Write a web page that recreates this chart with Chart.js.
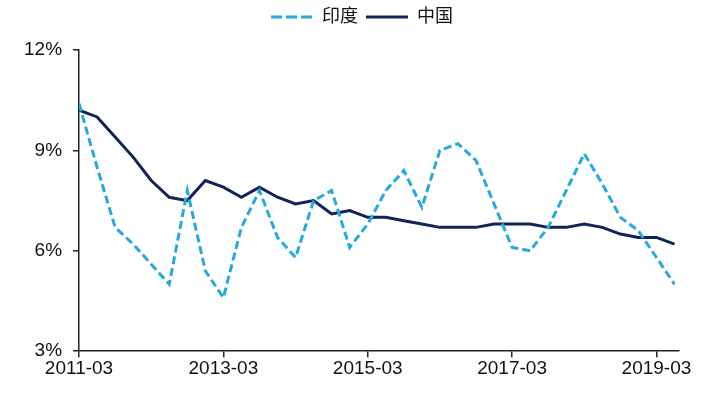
<!DOCTYPE html>
<html>
<head>
<meta charset="utf-8">
<script src="https://cdn.jsdelivr.net/npm/chart.js@4"></script>
<style>
  html, body { margin: 0; padding: 0; background: #fff; }
  #wrap { width: 714px; height: 405px; }
</style>
</head>
<body>
<div id="wrap"><canvas id="graphique" width="714" height="405"></canvas></div>
<script>
// Croissance du PIB trimestriel (%), 2011-03 à 2019-06
const trimestres = [
  '2011-03', '2011-06', '2011-09', '2011-12',
  '2012-03', '2012-06', '2012-09', '2012-12',
  '2013-03', '2013-06', '2013-09', '2013-12',
  '2014-03', '2014-06', '2014-09', '2014-12',
  '2015-03', '2015-06', '2015-09', '2015-12',
  '2016-03', '2016-06', '2016-09', '2016-12',
  '2017-03', '2017-06', '2017-09', '2017-12',
  '2018-03', '2018-06', '2018-09', '2018-12',
  '2019-03', '2019-06'
];
const inde = [
  10.4, 8.5, 6.7, 6.2, 5.6, 5.0, 7.8, 5.4,
  4.6, 6.7, 7.8, 6.4, 5.8, 7.5, 7.8, 6.1,
  6.8, 7.8, 8.4, 7.3, 9.0, 9.2, 8.7, 7.4,
  6.1, 6.0, 6.7, 7.8, 8.9, 8.0, 7.0, 6.6,
  5.8, 5.0
];
const chine = [
  10.2, 10.0, 9.4, 8.8, 8.1, 7.6, 7.5, 8.1,
  7.9, 7.6, 7.9, 7.6, 7.4, 7.5, 7.1, 7.2,
  7.0, 7.0, 6.9, 6.8, 6.7, 6.7, 6.7, 6.8,
  6.8, 6.8, 6.7, 6.7, 6.8, 6.7, 6.5, 6.4,
  6.4, 6.2
];
const ticksY = [3, 6, 9, 12];
const ticksX = ['2011-03', '2013-03', '2015-03', '2017-03', '2019-03'];

const ctx = document.getElementById('graphique').getContext('2d');
const police = "'Liberation Sans', Arial, 'Noto Sans CJK SC', sans-serif";

// Ajoute de l'espace sous la légende et la décale un peu vers la droite
const margeLegende = {
  id: 'margeLegende',
  beforeInit(chart) {
    const fitOrig = chart.legend.fit;
    chart.legend.fit = function fit() {
      fitOrig.bind(chart.legend)();
      this.height += 14;
    };
  },
  afterLayout(chart) {
    chart.legend.left += 16;
    chart.legend.right += 16;
  }
};

new Chart(ctx, {
  type: 'line',
  data: {
    datasets: [{
      label: '印度',
      data: inde.map((v, i) => ({ x: i, y: v })),
      borderColor: '#27a9de',
      borderWidth: 3,
      borderDash: [8, 4],
      pointRadius: 0,
      pointStyle: 'line',
      tension: 0
    }, {
      label: '中国',
      data: chine.map((v, i) => ({ x: i, y: v })),
      borderColor: '#11245a',
      borderWidth: 3,
      pointRadius: 0,
      pointStyle: 'line',
      tension: 0
    }]
  },
  plugins: [margeLegende],
  options: {
    responsive: false,
    animation: false,
    layout: { padding: { left: 13, right: 35, top: 0, bottom: 25 } },
    plugins: {
      legend: {
        position: 'top',
        labels: {
          usePointStyle: true,
          pointStyleWidth: 42,
          boxHeight: 3,
          color: '#111',
          padding: 8,
          font: { family: police, size: 18 },
          // le style pointillé n'est pas repris par défaut avec usePointStyle
          generateLabels: (chart) => Chart.defaults.plugins.legend.labels.generateLabels(chart).map((l) => ({
            ...l,
            lineWidth: 3,
            lineDash: chart.data.datasets[l.datasetIndex].borderDash ? [11, 4] : []
          }))
        }
      },
      tooltip: { enabled: false }
    },
    scales: {
      x: {
        type: 'linear',
        min: 0,
        max: 33.25,
        afterBuildTicks: (axe) => {
          axe.ticks = ticksX.map((t) => ({ value: trimestres.indexOf(t) }));
        },
        ticks: {
          callback: (v) => trimestres[v],
          color: '#111',
          padding: 0,
          maxRotation: 0,
          font: { family: police, size: 19 }
        },
        grid: { drawOnChartArea: false, tickLength: 6, color: '#222', lineWidth: 1.5 },
        border: { display: true, color: '#222', width: 1.5 }
      },
      y: {
        min: 3,
        max: 12,
        afterBuildTicks: (axe) => {
          axe.ticks = ticksY.map((v) => ({ value: v }));
        },
        ticks: {
          callback: (v) => v + '%',
          color: '#111',
          padding: 11,
          font: { family: police, size: 19 }
        },
        grid: { drawOnChartArea: false, tickLength: 6, color: '#222', lineWidth: 1.5 },
        border: { display: true, color: '#222', width: 1.5 }
      }
    }
  }
});
</script>
</body>
</html>
